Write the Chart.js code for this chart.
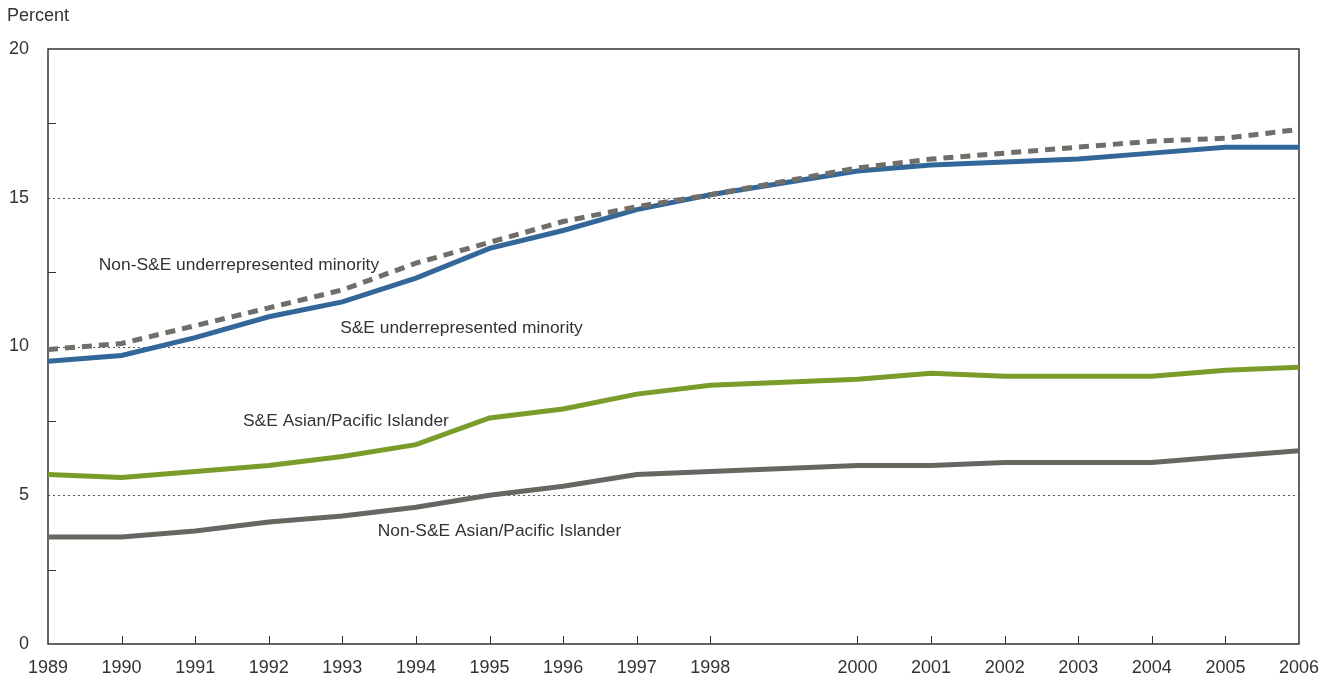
<!DOCTYPE html>
<html lang="en">
<head>
  <meta charset="UTF-8">
  <title>Chart</title>
  <style>
    html, body { margin: 0; padding: 0; background: #fff; }
    .grafico { width: 1332px; height: 683px; }
  </style>
</head>
<body>
  <div class="grafico">
    <canvas id="myCanvas"></canvas>
  </div>

<script src="https://cdn.jsdelivr.net/npm/chart.js"></script>
<script>
  // data (1999 has no value)
  const years = [1989, 1990, 1991, 1992, 1993, 1994, 1995, 1996, 1997, 1998, 2000, 2001, 2002, 2003, 2004, 2005, 2006];
  const nonSeUrm = [9.9, 10.1, 10.7, 11.3, 11.9, 12.8, 13.5, 14.2, 14.7, 15.1, 16.0, 16.3, 16.5, 16.7, 16.9, 17.0, 17.3];
  const seUrm = [9.5, 9.7, 10.3, 11.0, 11.5, 12.3, 13.3, 13.9, 14.6, 15.1, 15.9, 16.1, 16.2, 16.3, 16.5, 16.7, 16.7];
  const seAsian = [5.7, 5.6, 5.8, 6.0, 6.3, 6.7, 7.6, 7.9, 8.4, 8.7, 8.9, 9.1, 9.0, 9.0, 9.0, 9.2, 9.3];
  const nonSeAsian = [3.6, 3.6, 3.8, 4.1, 4.3, 4.6, 5.0, 5.3, 5.7, 5.8, 6.0, 6.0, 6.1, 6.1, 6.1, 6.3, 6.5];
  const yTickLabels = [0, 5, 10, 15, 20];

  // series labels written on the plot: [text, year, value]
  const seriesLabels = [
    ['Non-S&E underrepresented minority', 1989.69, 12.74],
    ['S&E underrepresented minority', 1992.97, 10.62],
    ['S&E Asian/Pacific Islander', 1991.65, 7.5],
    ['Non-S&E Asian/Pacific Islander', 1993.48, 3.8]
  ];

  const fonte = '"Liberation Sans Narrow", "Liberation Sans", Arial, sans-serif';

  function pontos(valores) {
    return years.map((ano, i) => ({ x: ano, y: valores[i] }));
  }

  const molduraPlugin = {
    id: 'moldura',
    beforeDatasetsDraw(chart) {
      const ctx = chart.ctx;
      const a = chart.chartArea;
      const xs = chart.scales.x;
      const ys = chart.scales.y;
      ctx.save();

      // dotted grid lines
      ctx.strokeStyle = '#555';
      ctx.lineWidth = 1;
      ctx.setLineDash([2, 3]);
      [5, 10, 15].forEach(v => {
        const y = Math.round(ys.getPixelForValue(v)) + 0.5;
        ctx.beginPath();
        ctx.moveTo(a.left, y);
        ctx.lineTo(a.right, y);
        ctx.stroke();
      });
      ctx.setLineDash([]);

      // ticks inside
      ctx.strokeStyle = '#333';
      for (let v = 2.5; v < 20; v += 5) {
        const y = Math.round(ys.getPixelForValue(v)) + 0.5;
        ctx.beginPath();
        ctx.moveTo(a.left, y);
        ctx.lineTo(a.left + 8, y);
        ctx.stroke();
      }
      for (let ano = 1990; ano < 2006; ano++) {
        if (ano === 1999) continue;
        const x = Math.round(xs.getPixelForValue(ano)) + 0.5;
        ctx.beginPath();
        ctx.moveTo(x, a.bottom);
        ctx.lineTo(x, a.bottom - 8);
        ctx.stroke();
      }

      // box
      ctx.strokeStyle = '#333';
      ctx.lineWidth = 1.5;
      ctx.strokeRect(a.left, a.top, a.right - a.left, a.bottom - a.top);

      ctx.restore();
    },
    afterDatasetsDraw(chart) {
      const ctx = chart.ctx;
      const xs = chart.scales.x;
      const ys = chart.scales.y;
      ctx.save();
      ctx.fillStyle = '#333';
      ctx.font = '17.4px ' + fonte;
      ctx.textBaseline = 'middle';
      ctx.textAlign = 'left';
      seriesLabels.forEach(([txt, ano, v]) => {
        ctx.fillText(txt, xs.getPixelForValue(ano), ys.getPixelForValue(v));
      });
      ctx.font = '18px ' + fonte;
      ctx.textBaseline = 'top';
      ctx.fillText('Percent', 7, 7);
      ctx.restore();
    }
  };

  const ctx = document.getElementById('myCanvas').getContext('2d');
  const chart = new Chart(ctx, {
    type: 'line',
    data: {
      datasets: [
        {
          label: 'Non-S&E underrepresented minority',
          data: pontos(nonSeUrm),
          borderColor: '#6f6e68',
          borderWidth: 5,
          borderDash: [10, 7],
          pointRadius: 0,
          order: 0
        },
        {
          label: 'S&E underrepresented minority',
          data: pontos(seUrm),
          borderColor: '#336699',
          borderWidth: 5,
          pointRadius: 0,
          order: 1
        },
        {
          label: 'S&E Asian/Pacific Islander',
          data: pontos(seAsian),
          borderColor: '#7a9c2a',
          borderWidth: 5,
          pointRadius: 0,
          order: 2
        },
        {
          label: 'Non-S&E Asian/Pacific Islander',
          data: pontos(nonSeAsian),
          borderColor: '#676762',
          borderWidth: 5,
          pointRadius: 0,
          order: 3
        }
      ]
    },
    options: {
      responsive: true,
      maintainAspectRatio: false,
      animation: false,
      layout: { padding: { left: 0, top: 49, right: 33, bottom: 0 } },
      plugins: {
        legend: { display: false },
        tooltip: { enabled: false }
      },
      scales: {
        x: {
          type: 'linear',
          min: 1989,
          max: 2006,
          grid: { display: false },
          border: { display: false },
          afterFit: s => { s.height = 39; },
          ticks: {
            stepSize: 1,
            autoSkip: false,
            maxRotation: 0,
            padding: 5,
            color: '#333',
            font: { family: fonte, size: 18 },
            callback: v => (v === 1999 ? '' : String(v))
          }
        },
        y: {
          min: 0,
          max: 20,
          grid: { display: false },
          border: { display: false },
          afterFit: s => { s.width = 48; },
          ticks: {
            stepSize: 5,
            padding: 11,
            color: '#333',
            font: { family: fonte, size: 18 },
            callback: v => (yTickLabels.includes(v) ? String(v) : '')
          }
        }
      }
    },
    plugins: [molduraPlugin]
  });
</script>
</body>
</html>
